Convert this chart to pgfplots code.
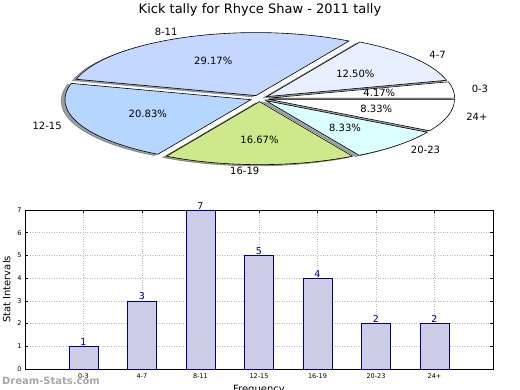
\documentclass[border=0pt]{standalone}
\usepackage{pgfplots}
\pgfplotsset{compat=1.18}
\usepackage{fontspec}
\setmainfont{DejaVu Sans}

\definecolor{pieB}{RGB}{232,240,255}
\definecolor{pieC}{RGB}{196,216,255}
\definecolor{pieD}{RGB}{180,214,255}
\definecolor{pieE}{RGB}{205,233,138}
\definecolor{pieF}{RGB}{220,255,255}
\definecolor{barfill}{RGB}{204,204,230}
\definecolor{barnavy}{RGB}{0,0,128}

\def\rx{186}\def\ry{63}\def\ex{0.05}
\def\piedata{1/white/0-3,3/pieB/4-7,7/pieC/8-11,5/pieD/12-15,4/pieE/16-19,2/pieF/20-23,2/white/24+}

\begin{document}
\begin{tikzpicture}
\useasboundingbox (0pt,0pt) rectangle (520pt,390pt);
\node[font=\fontsize{13}{15}\selectfont] at (260pt,380pt) {Kick tally for Rhyce Shaw - 2011 tally};

% ---------------- pie ----------------
\begin{axis}[at={(259.5pt,291.5pt)}, anchor=center, scale only axis,
  width=372pt, height=126pt, xmin=-1, xmax=1, ymin=-1, ymax=1,
  hide axis, clip=false]
% shadows
\gdef\cum{0}
\foreach \n/\col/\lab in \piedata {
  \pgfmathsetmacro\s{\cum}
  \pgfmathsetmacro\e{\cum+360*\n/24}
  \xdef\cum{\e}
  \pgfmathsetmacro\m{(\s+\e)/2}
  \pgfmathsetmacro\ox{\ex*cos(\m)-0.02}
  \pgfmathsetmacro\oy{\ex*sin(\m)-0.02}
  \pgfmathsetmacro\px{\ox+cos(\s)}
  \pgfmathsetmacro\py{\oy+sin(\s)}
  \edef\temp{\noexpand\filldraw[fill=\col!30!black, draw=\col!30!black, line width=0.6pt, opacity=0.5]
    (axis cs:\ox,\oy) -- (axis cs:\px,\py) arc[start angle=\s, end angle=\e, x radius=\rx pt, y radius=\ry pt] -- cycle;}
  \temp
}
% wedges
\gdef\cum{0}
\foreach \n/\col/\lab in \piedata {
  \pgfmathsetmacro\s{\cum}
  \pgfmathsetmacro\e{\cum+360*\n/24}
  \xdef\cum{\e}
  \pgfmathsetmacro\m{(\s+\e)/2}
  \pgfmathsetmacro\ox{\ex*cos(\m)}
  \pgfmathsetmacro\oy{\ex*sin(\m)}
  \pgfmathsetmacro\px{\ox+cos(\s)}
  \pgfmathsetmacro\py{\oy+sin(\s)}
  \edef\temp{\noexpand\filldraw[fill=\col, draw=black, line width=0.6pt]
    (axis cs:\ox,\oy) -- (axis cs:\px,\py) arc[start angle=\s, end angle=\e, x radius=\rx pt, y radius=\ry pt] -- cycle;}
  \temp
}
% texts
\gdef\cum{0}
\foreach \n/\col/\lab in \piedata {
  \pgfmathsetmacro\s{\cum}
  \pgfmathsetmacro\e{\cum+360*\n/24}
  \xdef\cum{\e}
  \pgfmathsetmacro\m{(\s+\e)/2}
  \pgfmathsetmacro\cm{cos(\m)}
  \pgfmathsetmacro\ox{\ex*cos(\m)}
  \pgfmathsetmacro\oy{\ex*sin(\m)}
  \pgfmathsetmacro\tx{\ox+0.6*cos(\m)}
  \pgfmathsetmacro\ty{\oy+0.6*sin(\m)}
  \pgfmathsetmacro\lx{\ox+1.1*cos(\m)}
  \pgfmathsetmacro\ly{\oy+1.1*sin(\m)}
  \pgfmathsetmacro\pct{100*\n/24}
  \ifdim \cm pt > 0.001pt \def\anch{west}\else\def\anch{east}\fi
  \edef\temp{\noexpand\node[font=\noexpand\fontsize{10}{12}\noexpand\selectfont, inner sep=0pt] at (axis cs:\tx,\ty)
      {\noexpand\pgfmathprintnumber[fixed,fixed zerofill,precision=2,assume math mode=true]{\pct}\noexpand\%};
    \noexpand\node[font=\noexpand\fontsize{10}{12}\noexpand\selectfont, inner sep=0pt, anchor=\anch] at (axis cs:\lx,\ly) {\lab};}
  \temp
}
\end{axis}

% ---------------- bars ----------------
\begin{axis}[at={(25pt,21pt)}, anchor=south west, scale only axis,
  width=468pt, height=159pt,
  xmin=0, xmax=8, ymin=0, ymax=7,
  xtick={1,...,7}, xticklabels={0-3,4-7,8-11,12-15,16-19,20-23,24+},
  ytick={0,...,7},
  grid=major, grid style={dotted, gray!55, line width=0.7pt},
  axis line style={line width=0.8pt},
  tick align=inside, major tick length=3pt, tick style={black, line width=0.5pt},
  ticklabel style={font=\fontsize{6.5}{8}\selectfont},
  xticklabel style={yshift=-1pt},
  /pgf/number format/assume math mode=true,
  ylabel={Stat Intervals}, xlabel={Frequency},
  label style={font=\fontsize{10}{12}\selectfont},
  clip=false]
\addplot[ybar, bar width=0.5, fill=barfill, draw=barnavy, line width=0.7pt,
  nodes near coords, nodes near coords style={font=\fontsize{9.5}{11}\selectfont, text=barnavy, inner sep=0.5pt}]
  coordinates {(1,1) (2,3) (3,7) (4,5) (5,4) (6,2) (7,2)};
\end{axis}

\node[text=gray!75, font=\bfseries\fontsize{10}{12}\selectfont, opacity=0.9] at (51pt,9pt) {Dream-Stats.com};
\end{tikzpicture}
\end{document}
